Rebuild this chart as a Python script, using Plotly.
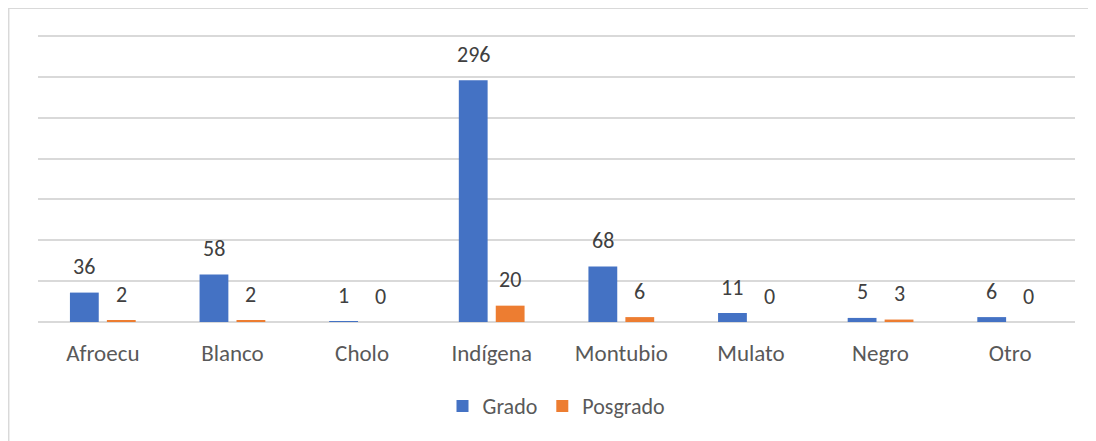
import plotly.graph_objects as go

categories = ["Afroecu", "Blanco", "Cholo", "Indígena", "Montubio", "Mulato", "Negro", "Otro"]
grado = [36, 58, 1, 296, 68, 11, 5, 6]
posgrado = [2, 2, 0, 20, 6, 0, 3, 0]
series_names = ["Grado", "Posgrado"]
colors = ["#4472C4", "#ED7D31"]

FONT = "Carlito, Lato, Liberation Sans, sans-serif"

fig = go.Figure()
for name, vals, col in zip(series_names, [grado, posgrado], colors):
    fig.add_trace(go.Bar(x=categories, y=vals, name=name, marker=dict(color=col, line=dict(width=0))))

annotations = []
for vals, shift in [(grado, -18.5), (posgrado, 18.5)]:
    for c, v in zip(categories, vals):
        annotations.append(dict(x=c, y=v, xref="x", yref="y", text=str(v), showarrow=False,
                                xshift=shift, yshift=26, yanchor="middle",
                                font=dict(family=FONT, size=22, color="#404040")))

# page is offset by ~8px body margin; figure sized to fit window
fig.update_layout(
    width=1088, height=433,
    margin=dict(l=30, r=21, t=24, b=119),
    paper_bgcolor="white", plot_bgcolor="white",
    barmode="group", bargap=0.43, bargroupgap=0.22,
    font=dict(family=FONT, color="#595959"),
    showlegend=True,
    legend=dict(orientation="h", x=0.5, xanchor="center", y=-0.29, yanchor="middle",
                font=dict(family=FONT, size=22, color="#595959"),
                traceorder="normal"),
    annotations=annotations,
    shapes=[
        dict(type="line", xref="paper", yref="paper", x0=-0.0285, x1=-0.0285, y0=1.083, y1=-0.45,
             line=dict(color="#d9d9d9", width=2)),
        dict(type="line", xref="paper", yref="paper", x0=-0.0285, x1=1.03, y0=1.083, y1=1.083,
             line=dict(color="#d9d9d9", width=2)),
    ],
)
fig.update_xaxes(showgrid=False, showline=False, ticks="", ticklabelstandoff=15,
                 tickfont=dict(family=FONT, size=23, color="#595959"))
fig.update_yaxes(range=[0, 355], tick0=0, dtick=50, showgrid=True, gridcolor="#d9d9d9", gridwidth=1.5,
                 zeroline=True, zerolinecolor="#d9d9d9", zerolinewidth=1.5,
                 showticklabels=False, ticks="")

fig.write_html("out.html")
